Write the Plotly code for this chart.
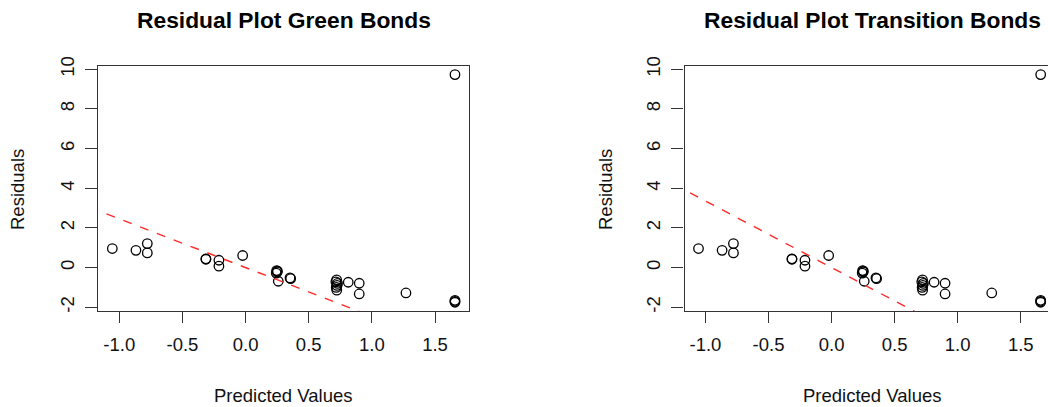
import plotly.graph_objects as go

# ---- data ----
predicted = [-1.055, -0.868, -0.778, -0.778, -0.314, -0.314, -0.211, -0.211, -0.023,
             0.246, 0.250, 0.243, 0.252, 0.259, 0.352, 0.357,
             0.721, 0.715, 0.728, 0.724, 0.718, 0.722, 0.813, 0.900, 0.900,
             1.270, 1.658, 1.658, 1.658, 1.658]
residuals = [0.96, 0.87, 1.21, 0.74, 0.44, 0.42, 0.37, 0.07, 0.61,
             -0.15, -0.22, -0.28, -0.18, -0.69, -0.52, -0.56,
             -0.62, -0.72, -0.80, -0.90, -1.00, -1.14, -0.74, -0.79, -1.33,
             -1.28, 9.73, -1.65, -1.70, -1.75]

panel_titles = ["Residual Plot Green Bonds", "Residual Plot Transition Bonds"]
line_intercepts = [0.0, 0.0]
line_slopes = [-2.46, -3.36]
line_x = [-1.5, 2.0]

x_tickvals = [-1.0, -0.5, 0.0, 0.5, 1.0, 1.5]
x_ticktext = ["-1.0", "-0.5", "0.0", "0.5", "1.0", "1.5"]
y_tickvals = [-2, 0, 2, 4, 6, 8, 10]
y_ticktext = ["-2", "0", "2", "4", "6", "8", "10"]

W, H = 1048, 407
FONT = "Liberation Sans, Arial, Helvetica, sans-serif"
AX = "#333333"

def px(x):
    return x / W

def py(y):
    return 1 - y / H

fig = go.Figure()

panels = [
    dict(xd=[98.3, 469.0], xr=[-1.166, 1.769], mirror_y=True, cx=283.7, lab_x=17),
    dict(xd=[684.5, 1048.0], xr=[-1.166, 1.716], mirror_y=False, cx=872.0, lab_x=605),
]
y_dom = [1 - 311.0 / H, 1 - 65.7 / H]
y_range = [-2.19, 10.18]

for i, p in enumerate(panels):
    n = "" if i == 0 else str(i + 1)
    xa = "x" + n
    ya = "y" + n
    fig.add_trace(go.Scatter(
        x=predicted, y=residuals, mode="markers", xaxis=xa, yaxis=ya,
        marker=dict(symbol="circle-open", size=9.5, color="black", line=dict(width=1.3, color="black")),
        showlegend=False, hoverinfo="skip"))
    ly = [line_intercepts[i] + line_slopes[i] * v for v in line_x]
    fig.add_trace(go.Scatter(
        x=line_x, y=ly, mode="lines", xaxis=xa, yaxis=ya,
        line=dict(color="#ff2a2a", width=1.4, dash="dash"),
        showlegend=False, hoverinfo="skip"))

    fig.layout["xaxis" + n] = dict(
        domain=[px(p["xd"][0]), px(p["xd"][1])], range=p["xr"], anchor=ya,
        automargin=False,
        showgrid=False, zeroline=False, showline=True, linecolor=AX, linewidth=1.3,
        mirror=True, ticks="outside", ticklen=11, tickwidth=1.3, tickcolor=AX,
        tickvals=x_tickvals, ticktext=x_ticktext,
        tickfont=dict(family=FONT, size=18.5, color="#111111"), ticklabelstandoff=6)
    fig.layout["yaxis" + n] = dict(
        domain=y_dom, range=y_range, anchor=xa,
        automargin=False,
        showgrid=False, zeroline=False, showline=True, linecolor=AX, linewidth=1.3,
        mirror=p["mirror_y"], ticks="outside", ticklen=12, tickwidth=1.3, tickcolor=AX,
        tickvals=y_tickvals, ticktext=y_ticktext, tickangle=-90,
        tickfont=dict(family=FONT, size=18.5, color="#111111"), ticklabelstandoff=4)

    fig.add_annotation(text="<b>" + panel_titles[i] + "</b>", xref="paper", yref="paper",
                       x=px(p["cx"]), y=py(19.5), xanchor="center", yanchor="middle",
                       showarrow=False, font=dict(family=FONT, size=22.8, color="black"))
    fig.add_annotation(text="Predicted Values", xref="paper", yref="paper",
                       x=px(p["cx"]), y=py(395), xanchor="center", yanchor="middle",
                       showarrow=False, font=dict(family=FONT, size=18.5, color="#111111"))
    fig.add_annotation(text="Residuals", xref="paper", yref="paper", textangle=-90,
                       x=px(p["lab_x"]), y=py(190), xanchor="center", yanchor="middle",
                       showarrow=False, font=dict(family=FONT, size=18.5, color="#111111"))

fig.update_layout(template="none", width=W, height=H, margin=dict(l=0, r=0, t=0, b=0, pad=0),
                  paper_bgcolor="white", plot_bgcolor="white")

fig.write_html("out.html", config={"displayModeBar": False},
               post_script="document.body.style.margin='0px';document.body.style.overflow='hidden';")
